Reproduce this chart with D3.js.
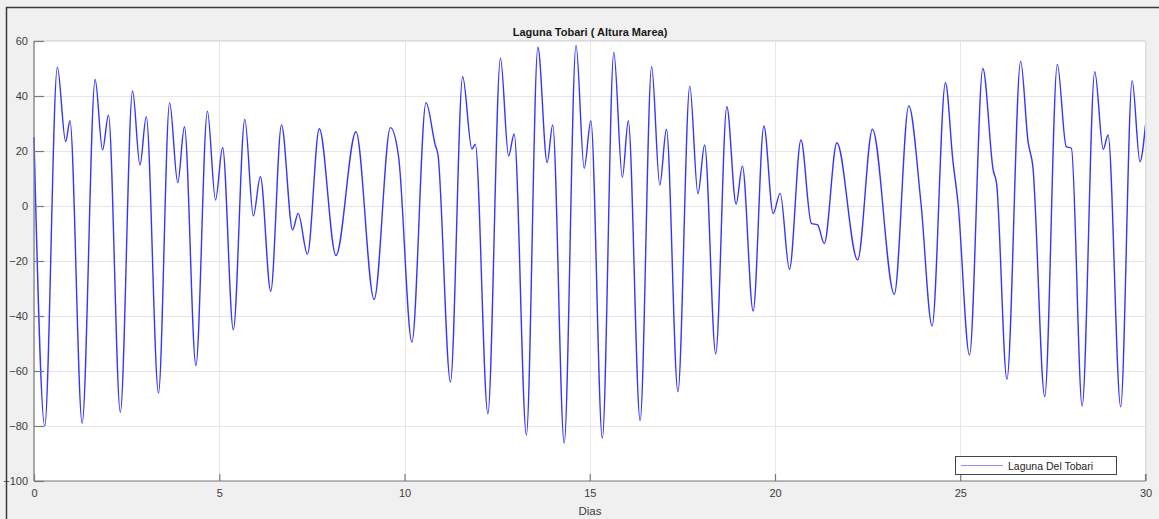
<!DOCTYPE html>
<html><head><meta charset="utf-8">
<script src="https://cdn.jsdelivr.net/npm/d3@7"></script>
<style>
html,body{margin:0;padding:0;background:#f0f0f0;}
svg{display:block;font-family:"Liberation Sans",Arial,sans-serif;}
</style></head>
<body>
<svg id="chart" width="1159" height="519"></svg>
<script>
// Data (day, tide height)
const days = [0,0.29,0.63,0.855,0.97,1.30,1.65,1.85,2.01,2.33,2.66,2.86,3.03,3.36,3.66,3.88,4.06,4.37,4.68,4.90,
  5.09,5.38,5.69,5.92,6.11,6.39,6.68,6.98,7.13,7.38,7.70,8.15,8.69,9.18,9.62,9.84,
  10.20,10.58,10.83,10.90,11.24,11.57,11.82,11.91,12.25,12.59,12.81,12.96,13.29,13.60,13.85,14.00,14.31,14.63,14.85,
  15.03,15.34,15.65,15.88,16.04,16.36,16.67,16.89,17.07,17.38,17.70,17.92,18.10,18.40,18.70,18.95,19.12,19.41,19.70,19.95,
  20.14,20.39,20.70,20.98,21.15,21.33,21.67,22.23,22.63,23.22,23.61,23.94,24.24,24.60,24.80,24.94,
  25.25,25.61,25.89,25.98,26.26,26.63,26.83,26.96,27.28,27.62,27.86,28.00,28.29,28.63,28.86,28.99,29.33,29.64,29.85,30.0];
const heights = [25,-80,50.5,23.4,31,-79,46,20.4,33,-75,41.8,14.9,32.5,-68,37.6,8.5,28.8,-58,34.5,2.2,
  21.3,-45,31.5,-3.6,10.7,-31,29.5,-8.7,-2.7,-17.5,28.1,-18,27,-34,28.5,18,
  -49.5,37.6,22.2,19,-64,47,20.7,22.5,-75.5,53.7,18.2,26.2,-83.3,57.7,15.8,29.5,-86.3,58.5,13.7,
  31,-84.5,55.8,10.4,31,-78,50.7,7.6,27.9,-67.5,43.6,4.4,22.2,-53.8,36.1,0.7,14.5,-38.2,29.1,-2.7,
  4.6,-23,24,-6.3,-6.9,-13.6,23,-19.6,27.9,-32.1,36.4,1,-43.6,44.8,16.7,1,
  -54.2,50,13,8.2,-63,52.7,23.4,14.3,-69.3,51.5,21.6,21,-72.7,48.8,20.6,25.8,-73,45.6,16.1,29.5];
const xTicks = [0,5,10,15,20,25,30];
const yTicks = [60,40,20,0,-20,-40,-60,-80,-100];
const seriesName = "Laguna Del Tobari";
const titleText = "Laguna Tobari ( Altura Marea)";
const xLabel = "Dias";

const data = days.map((d,i)=>({x:d,y:heights[i]}));
const svg = d3.select("#chart");
const L=34, R=1145.5, T=41, B=481;
const x = d3.scaleLinear().domain([0,30]).range([L,R]);
const y = d3.scaleLinear().domain([-100,60]).range([B,T]);

// outer frame
svg.append("line").attr("x1",6.5).attr("x2",6.5).attr("y1",7).attr("y2",519).attr("stroke","#3a3a3a").attr("stroke-width",1.5);
svg.append("line").attr("x1",6).attr("x2",1159).attr("y1",7.5).attr("y2",7.5).attr("stroke","#3a3a3a").attr("stroke-width",1.5);

// axes background
svg.append("rect").attr("x",L).attr("y",T).attr("width",R-L).attr("height",B-T).attr("fill","#fff");

// grid
const g = svg.append("g");
g.selectAll("line.gx").data(xTicks).join("line").attr("class","gx")
  .attr("x1",d=>Math.round(x(d))+0.5).attr("x2",d=>Math.round(x(d))+0.5).attr("y1",T).attr("y2",B)
  .attr("stroke","#e6e6e6").attr("stroke-width",1);
g.selectAll("line.gy").data(yTicks).join("line").attr("class","gy")
  .attr("y1",d=>Math.round(y(d))+0.5).attr("y2",d=>Math.round(y(d))+0.5).attr("x1",L).attr("x2",R)
  .attr("stroke","#e6e6e6").attr("stroke-width",1);

// line
const line = d3.line().x(d=>x(d.x)).y(d=>y(d.y)).curve(d3.curveMonotoneX);
svg.append("path").datum(data).attr("d",line).attr("fill","none")
  .attr("stroke","#3535ff").attr("stroke-width",1.4);

// box: top/right light
svg.append("line").attr("x1",L).attr("x2",R).attr("y1",T-0.5).attr("y2",T-0.5).attr("stroke","#dcdcdc");
svg.append("line").attr("x1",R).attr("x2",R).attr("y1",T).attr("y2",B).attr("stroke","#dcdcdc");

// axes
const xAxis = d3.axisBottom(x).tickValues(xTicks).tickSize(-7).tickPadding(14).tickFormat(d3.format("d"));
const yAxis = d3.axisLeft(y).tickValues(yTicks).tickSize(-10).tickPadding(16).tickFormat(d3.format("d"));
const gx = svg.append("g").attr("transform",`translate(0,${B})`).call(xAxis);
const gy = svg.append("g").attr("transform",`translate(${L},0)`).call(yAxis);
[gx,gy].forEach(a=>{
  a.select(".domain").attr("stroke","#7a7a7a").attr("stroke-width",1.2);
  a.selectAll(".tick line").attr("stroke","#7a7a7a").attr("stroke-width",1.2);
  a.selectAll(".tick text").attr("fill","#3c3c3c").style("font-size","11px").style("font-family","'Liberation Sans',Arial,sans-serif");
});
gx.select(".domain").attr("d",`M${L},0H${R}`);
gy.select(".domain").attr("d",`M0,${B}V${T}`);
gy.selectAll(".tick text").attr("x",-6);
gx.selectAll(".tick text").attr("y",8);
svg.append("line").attr("x1",R).attr("x2",R).attr("y1",B).attr("y2",B-7).attr("stroke","#7a7a7a").attr("stroke-width",1.2);

// title
svg.append("text").attr("x",590).attr("y",36).attr("text-anchor","middle")
  .style("font-size","11px").style("font-weight","bold").attr("fill","#1a1a1a").text(titleText);
// x label
svg.append("text").attr("x",590).attr("y",515).attr("text-anchor","middle")
  .style("font-size","11.5px").attr("fill","#3c3c3c").text(xLabel);

// legend
const lg = svg.append("g");
lg.append("rect").attr("x",955.5).attr("y",456.5).attr("width",161).attr("height",18)
  .attr("fill","#fff").attr("stroke","#444").attr("stroke-width",1);
lg.append("line").attr("x1",961).attr("x2",1003).attr("y1",465.5).attr("y2",465.5)
  .attr("stroke","#8f8fff").attr("stroke-width",1.2);
lg.append("text").attr("x",1008).attr("y",469.5).style("font-size","10.5px").attr("fill","#262626").text(seriesName);
</script>
</body></html>
